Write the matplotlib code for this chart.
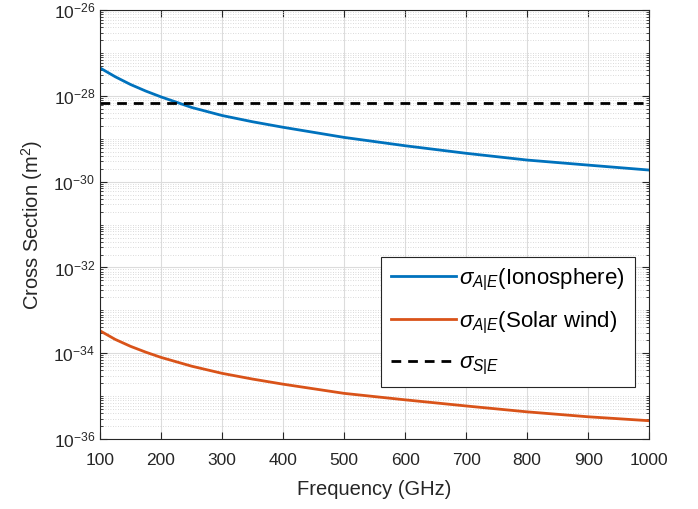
import matplotlib
matplotlib.use("Agg")
import matplotlib.pyplot as plt
from matplotlib.ticker import LogLocator, FixedLocator, NullFormatter

plt.rcParams["font.family"] = ["Liberation Sans", "DejaVu Sans"]
plt.rcParams["mathtext.fontset"] = "custom"
plt.rcParams["mathtext.rm"] = "Liberation Sans"
plt.rcParams["mathtext.it"] = "Liberation Sans:italic"

# Values
freq_ghz = [100, 125, 150, 175, 200, 250, 300, 350, 400, 500, 600, 700, 800, 900, 1000]
sigma_ionosphere = [4.5e-28, 2.8e-28, 1.85e-28, 1.3e-28, 9.5e-29, 5.4e-29, 3.5e-29, 2.5e-29,
                    1.86e-29, 1.08e-29, 6.9e-30, 4.6e-30, 3.2e-30, 2.44e-30, 1.87e-30]
sigma_solar_wind = [3.34e-34, 2.1e-34, 1.45e-34, 1.06e-34, 8.0e-35, 5.0e-35, 3.4e-35, 2.5e-35,
                    1.9e-35, 1.16e-35, 8.2e-36, 5.9e-36, 4.3e-36, 3.3e-36, 2.67e-36]
sigma_scatter = 6.7e-29

fig = plt.figure(figsize=(6.98, 5.09), dpi=100)
ax = fig.add_axes([0.1433, 0.1375, 0.7867, 0.8425])

ax.plot(freq_ghz, sigma_ionosphere, color="#0072BD", linewidth=2,
        label=r"$\sigma_{A|E}$(Ionosphere)")
ax.plot(freq_ghz, sigma_solar_wind, color="#D95319", linewidth=2,
        label=r"$\sigma_{A|E}$(Solar wind)")
ax.axhline(sigma_scatter, color="black", linestyle=(0, (3.5, 2.5)), linewidth=2,
           label=r"$\sigma_{S|E}$")

ax.set_yscale("log")
ax.set_xlim(100, 1000)
ax.set_ylim(1e-36, 1e-26)
ax.set_xticks(range(100, 1001, 100))
ax.yaxis.set_major_locator(FixedLocator([10.0 ** e for e in range(-36, -25, 2)]))
ax.yaxis.set_minor_locator(LogLocator(base=10, subs=range(1, 10), numticks=100))
ax.yaxis.set_minor_formatter(NullFormatter())

ax.grid(True, which="major", color="#dcdcdc", linewidth=0.8)
ax.grid(True, which="minor", axis="y", color="#cfcfcf", linestyle=(0, (1, 2)), linewidth=0.6)
ax.set_axisbelow(True)

ax.tick_params(which="both", direction="in", top=True, right=True,
               labelsize=12.5, colors="#262626")
ax.tick_params(which="major", length=5)
ax.tick_params(which="minor", length=2.5)
ax.tick_params(axis="x", pad=10)
for s in ax.spines.values():
    s.set_color("#262626")
    s.set_linewidth(0.8)

ax.set_xlabel("Frequency (GHz)", fontsize=14.5, color="#262626", labelpad=9)
ax.set_ylabel(r"Cross Section (m$^2$)", fontsize=14.5, color="#262626", labelpad=6)

leg = ax.legend(loc="upper right", bbox_to_anchor=(0.974, 0.425), fontsize=16,
                fancybox=False, framealpha=1, edgecolor="#262626",
                handlelength=2.9, handletextpad=0.15, borderpad=0.45,
                labelspacing=0.75, borderaxespad=0)
leg.get_frame().set_linewidth(0.8)

fig.savefig("out.png", dpi=100)
